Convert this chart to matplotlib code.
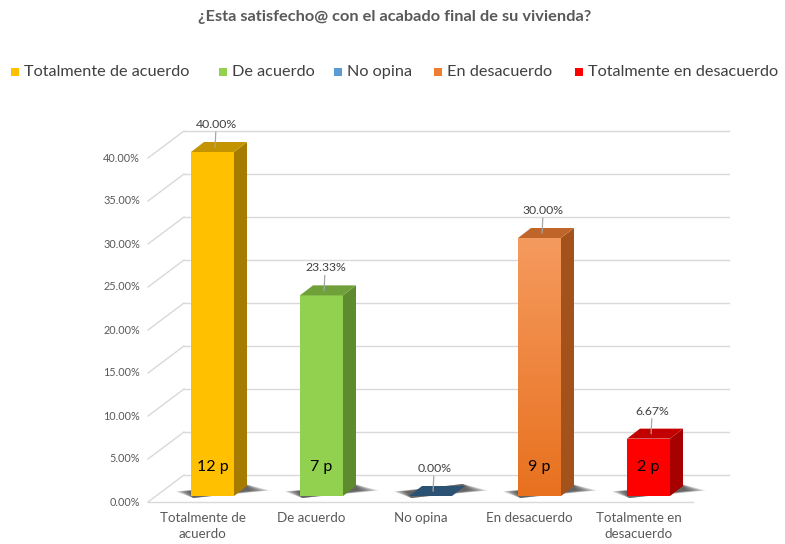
import matplotlib
matplotlib.use('Agg')
import matplotlib.pyplot as plt
import numpy as np
from matplotlib.patches import Polygon, Rectangle
from matplotlib.colors import to_rgb

plt.rcParams['font.family'] = ['Lato', 'DejaVu Sans']

title = '¿Esta satisfecho@ con el acabado final de su vivienda?'
categories = ['Totalmente de\nacuerdo', 'De acuerdo', 'No opina', 'En desacuerdo', 'Totalmente en\ndesacuerdo']
legend_labels = ['Totalmente de acuerdo', 'De acuerdo', 'No opina', 'En desacuerdo', 'Totalmente en desacuerdo']
percentages = [0.40, 0.2333, 0.0, 0.30, 0.0667]
counts = [12, 7, 0, 9, 2]
yticks = [0.0, 0.05, 0.10, 0.15, 0.20, 0.25, 0.30, 0.35, 0.40]

front_colors = ['#FFC000', '#92D050', '#5B9BD5', '#ED7D31', '#FF0000']
legend_colors = ['#FFC000', '#92D050', '#5B9BD5', '#ED7D31', '#FF0000']
side_colors = ['#A67C00', '#5E8B2E', '#2C5273', '#A3521C', '#A60000']
top_colors = ['#C49300', '#6FA03A', '#2C5273', '#C0652A', '#C20000']
grad_top = '#F59A5E'
grad_bot = '#E8711F'

W, H = 785, 544
fig = plt.figure(figsize=(W / 100, H / 100), dpi=100)
fig.patch.set_facecolor('white')

ax_l, ax_r, ax_b = 148, 693, 502
PY = 860.0
ax = fig.add_axes([ax_l / W, (H - ax_b) / H, (ax_r - ax_l) / W, 0.45 * PY / H])
ax.set_xlim(-0.5, 4.5)
ax.set_ylim(0, 0.45)
ax.axis('off')
PX = (ax_r - ax_l) / 5.0

DX, DY = 36 / PX, 27 / PY
bdx, bdy = 13 / PX, 10 / PY
XS = 10 / PX
Y0 = 6 / PY
bw = 43 / PX

grid_c = '#D9D9D9'
for t in yticks:
    ax.plot([-0.5 + DX, 4.5 + DX], [t + DY, t + DY], color=grid_c, lw=1.0, clip_on=False, zorder=1)
    ax.plot([-0.5, -0.5 + DX], [t, t + DY], color=grid_c, lw=1.0, clip_on=False, zorder=1)
    ax.text(-0.5 - 8 / PX, t, f'{t * 100:.2f}%', ha='right', va='center', fontsize=7.8,
            color='#595959')
ax.plot([-0.5, 4.5], [0, 0], color=grid_c, lw=1.0, clip_on=False, zorder=1)

for i, (v, n) in enumerate(zip(percentages, counts)):
    xc = i + XS
    xl, xr = xc - bw / 2, xc + bw / 2
    for k in range(8):
        s = 1 - k * 0.12
        el, er = 0.14 * s, 0.21 * s
        pts = [(xl - el, Y0 + bdy * 0.45),
               (xl + 0.02, Y0 - 2 / PY),
               (xr + bdx + er, Y0 + bdy * 0.55),
               (xr + bdx - 0.02, Y0 + bdy + 2 / PY)]
        ax.add_patch(Polygon(pts, closed=True, facecolor='#262626', edgecolor='none',
                             alpha=0.14, zorder=2, clip_on=False))
    if v > 0:
        front = Rectangle((xl, Y0), bw, v, facecolor=front_colors[i], edgecolor='none',
                          zorder=4, clip_on=False)
        ax.add_patch(front)
        if i == 3:
            c1, c2 = np.array(to_rgb(grad_top)), np.array(to_rgb(grad_bot))
            tt = np.linspace(0, 1, 100)[:, None]
            img = (c1 * (1 - tt) + c2 * tt)[:, None, :]
            im = ax.imshow(img, extent=[xl, xr, Y0, Y0 + v], aspect='auto', zorder=4.5,
                           interpolation='bilinear')
            im.set_clip_path(front)
        side = Polygon([(xr, Y0), (xr + bdx, Y0 + bdy), (xr + bdx, Y0 + v + bdy), (xr, Y0 + v)],
                       closed=True, facecolor=side_colors[i], edgecolor='none', zorder=4,
                       clip_on=False)
        ax.add_patch(side)
    top = Polygon([(xl, Y0 + v), (xr, Y0 + v), (xr + bdx, Y0 + v + bdy), (xl + bdx, Y0 + v + bdy)],
                  closed=True, facecolor=top_colors[i], edgecolor='none', zorder=5, clip_on=False)
    ax.add_patch(top)
    ly = Y0 + v + 0.032
    ax.plot([xc + bdx * 0.2, xc + 0.03], [Y0 + v + bdy * 0.5, ly - 0.009], color='#A6A6A6',
            lw=0.9, zorder=6, clip_on=False)
    ax.text(xc + 0.035, ly, f'{v * 100:.2f}%', ha='center', va='center', fontsize=8.8,
            color='#404040', zorder=7)
    if n > 0:
        ax.text(xc, 0.041, f'{n} p', ha='center', va='center', fontsize=11.5, color='black',
                zorder=7)
    ax.text(i, -10 / PY, categories[i], ha='center', va='top', fontsize=9.6, color='#595959',
            linespacing=1.45)

ax.set_xlim(-0.5, 4.5)
ax.set_ylim(0, 0.45)

fig.text(395 / W, 1 - 17 / H, title, ha='center', va='center', fontsize=11.8, fontweight='bold',
         color='#595959')

leg_x = [11, 219, 334, 434, 575]
for x, lab, c in zip(leg_x, legend_labels, legend_colors):
    fig.add_artist(Rectangle((x / W, 1 - 76 / H), 8 / W, 8 / H, transform=fig.transFigure,
                             facecolor=c, edgecolor='none'))
    fig.text((x + 13) / W, 1 - 72 / H, lab, ha='left', va='center', fontsize=11.7,
             color='#404040')

fig.savefig('out.png', dpi=100, facecolor='white')
